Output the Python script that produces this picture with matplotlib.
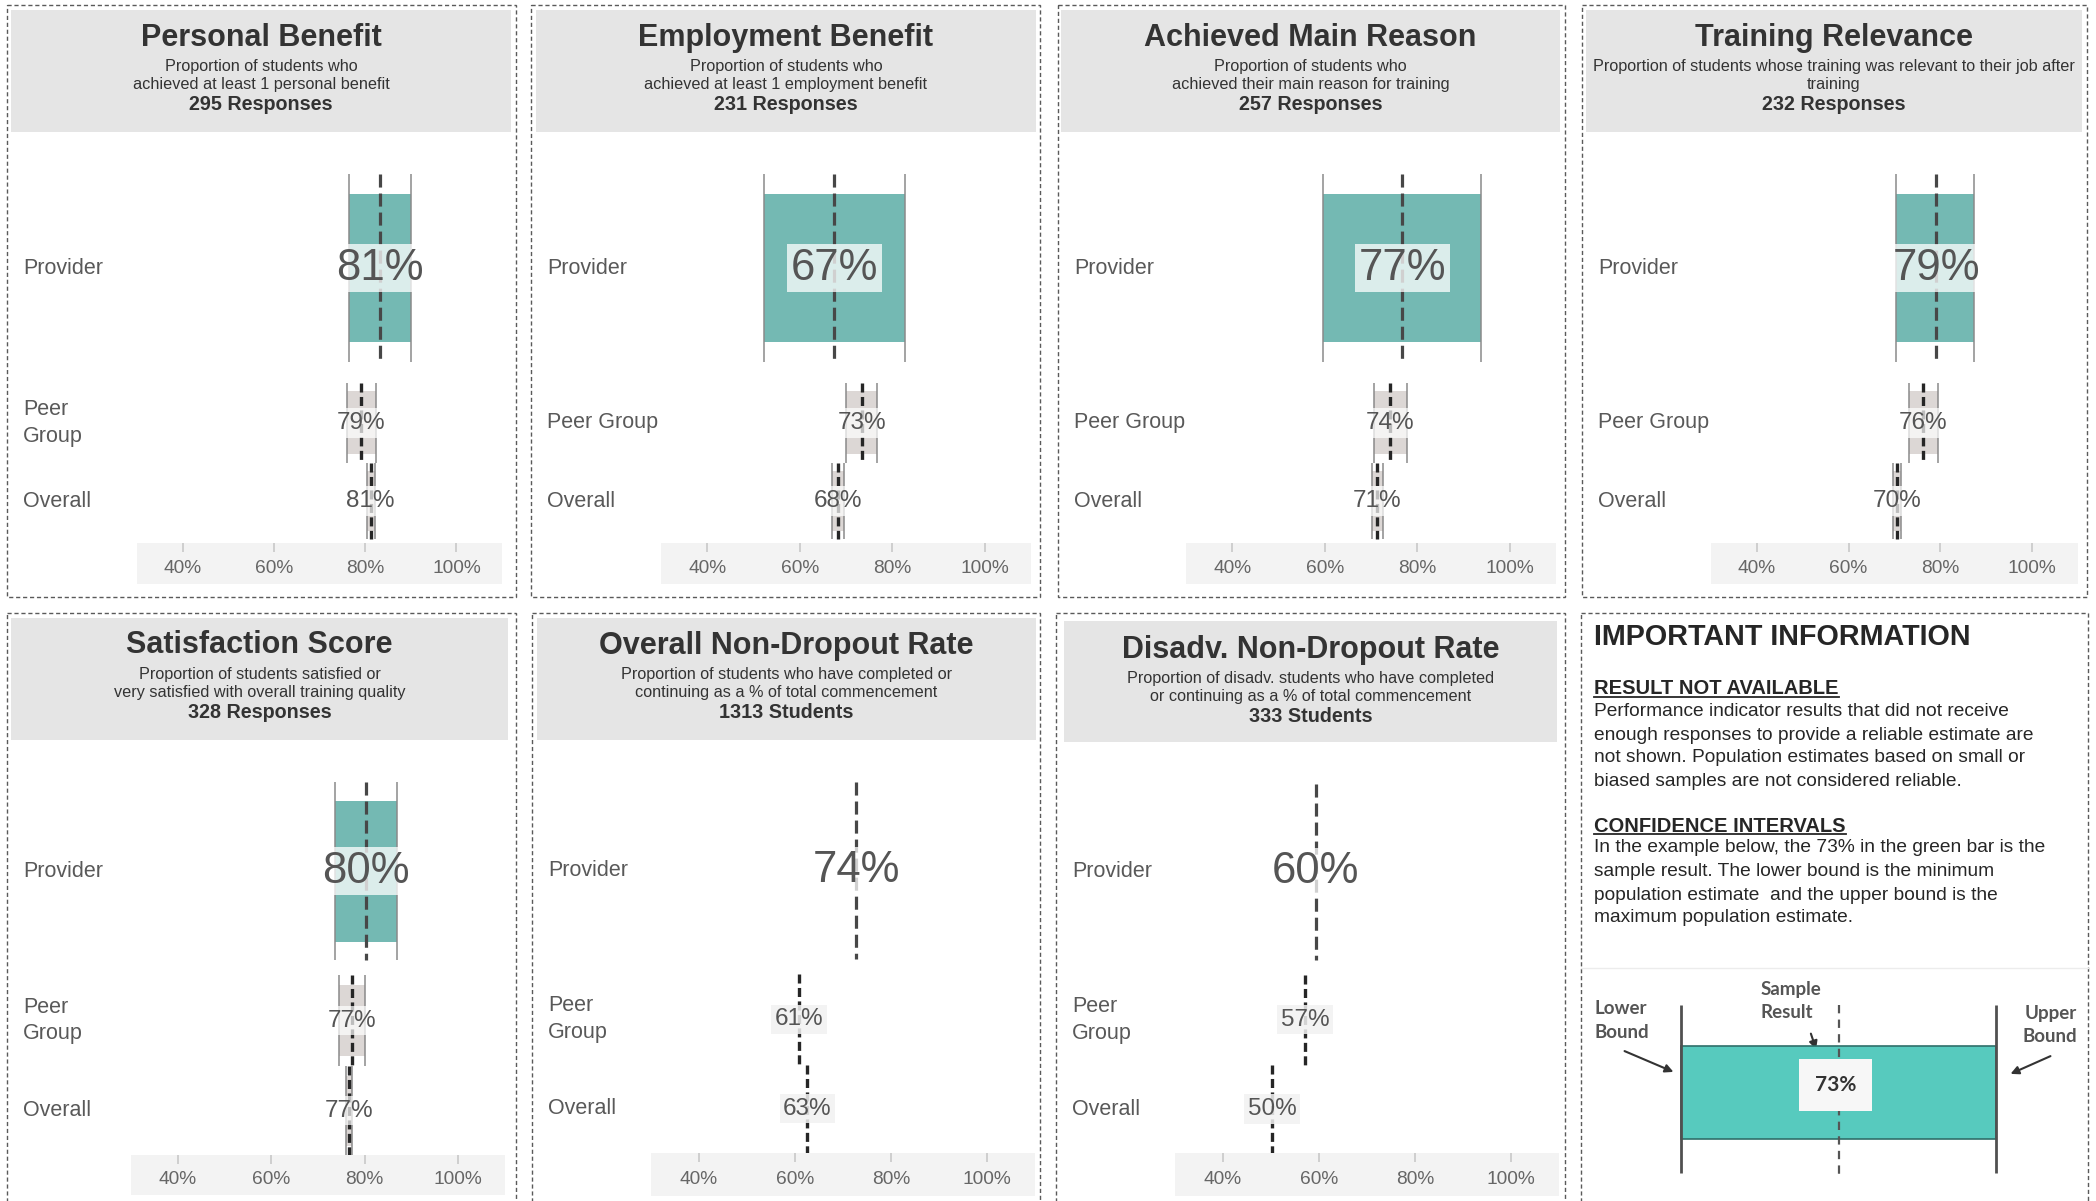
import matplotlib
matplotlib.use("Agg")
import matplotlib.pyplot as plt
import matplotlib.transforms as mtransforms
from matplotlib.patches import Rectangle, FancyArrowPatch

plt.rcParams['font.family'] = ['Liberation Sans', 'DejaVu Sans']
plt.rcParams['lines.scale_dashes'] = False

W, H = 2096, 1201

# ---------------- data ----------------
titles = ["Personal Benefit", "Employment Benefit", "Achieved Main Reason", "Training Relevance",
          "Satisfaction Score", "Overall Non-Dropout Rate", "Disadv. Non-Dropout Rate"]
subtitles = [
    "Proportion of students who\nachieved at least 1 personal benefit",
    "Proportion of students who\nachieved at least 1 employment benefit",
    "Proportion of students who\nachieved their main reason for training",
    "Proportion of students whose training was relevant to their job after\ntraining",
    "Proportion of students satisfied or\nvery satisfied with overall training quality",
    "Proportion of students who have completed or\ncontinuing as a % of total commencement",
    "Proportion of disadv. students who have completed\nor continuing as a % of total commencement",
]
counts = ["295 Responses", "231 Responses", "257 Responses", "232 Responses",
          "328 Responses", "1313 Students", "333 Students"]
row_names = [
    ["Provider", "Peer\nGroup", "Overall"],
    ["Provider", "Peer Group", "Overall"],
    ["Provider", "Peer Group", "Overall"],
    ["Provider", "Peer Group", "Overall"],
    ["Provider", "Peer\nGroup", "Overall"],
    ["Provider", "Peer\nGroup", "Overall"],
    ["Provider", "Peer\nGroup", "Overall"],
]
# sample result (dashed line), lower / upper bound of the confidence interval
result_pos = [
    [83.2, 79.2, 81.2],
    [67.5, 73.4, 68.3],
    [76.8, 74.2, 71.3],
    [79.1, 76.3, 70.5],
    [80.3, 77.2, 76.6],
    [72.8, 60.8, 62.6],
    [59.3, 57.1, 50.2],
]
lower = [
    [76.5, 76.1, 80.4],
    [52.2, 70.1, 67.0],
    [59.6, 70.6, 70.3],
    [70.4, 73.1, 69.7],
    [73.7, 74.5, 76.0],
    None,
    None,
]
upper = [
    [90.1, 82.4, 82.1],
    [82.7, 76.7, 69.5],
    [93.8, 77.8, 72.5],
    [87.4, 79.5, 71.5],
    [87.0, 80.0, 77.3],
    None,
    None,
]
result_labels = [
    ["81%", "79%", "81%"],
    ["67%", "73%", "68%"],
    ["77%", "74%", "71%"],
    ["79%", "76%", "70%"],
    ["80%", "77%", "77%"],
    ["74%", "61%", "63%"],
    ["60%", "57%", "50%"],
]
ticks = [40, 60, 80, 100]
tick_labels = ["40%", "60%", "80%", "100%"]

info_title = "IMPORTANT INFORMATION"
info_heads = ["RESULT NOT AVAILABLE", "CONFIDENCE INTERVALS"]
info_body = [
    ["Performance indicator results that did not receive",
     "enough responses to provide a reliable estimate are",
     "not shown. Population estimates based on small or",
     "biased samples are not considered reliable."],
    ["In the example below, the 73% in the green bar is the",
     "sample result. The lower bound is the minimum",
     "population estimate  and the upper bound is the",
     "maximum population estimate."],
]
example_bounds = [62, 73, 84]      # lower, sample, upper
example_label = "73%"

# ---------------- layout (pixels on the 2096x1201 canvas) ----------------
top = dict(top=5, bottom=597, head_y=(10, 132), band=(543, 584), text_y=(38, 67, 84, 104),
           row_c=[33.1, 70.8, 89.8], row_half=[22.8, 9.7, 9.2])
bot = dict(top=613, bottom=1215, head_y=(618, 740), band=(1155, 1195),
           row_c=[31.6, 67.6, 89.3], row_half=[21.5, 10.9, 10.7])
panels = [
    dict(top, box=(7, 516), head=(11, 511), plot=(137, 502)),
    dict(top, box=(531, 1040), head=(536, 1036), plot=(661, 1031)),
    dict(top, box=(1058, 1565), head=(1061, 1560), plot=(1186, 1556)),
    dict(top, box=(1582, 2087), head=(1586, 2082), plot=(1711, 2078)),
    dict(bot, box=(7, 516), head=(11, 508), plot=(131, 505), text_y=(645, 674, 692, 712)),
    dict(bot, box=(532, 1040), head=(537, 1036), plot=(651, 1035), band=(1153, 1196),
         text_y=(646, 675, 693, 712)),
    dict(bot, box=(1056, 1565), head=(1064, 1557), plot=(1175, 1559), band=(1153, 1196),
         head_y=(621, 742), text_y=(650, 678, 696, 716)),
]
bar_frac = 0.79
teal = "#74b9b3"
grey = "#dcd7d5"


def frac_rect(x0, x1, y0, y1):
    return [x0 / W, 1 - y1 / H, (x1 - x0) / W, (y1 - y0) / H]


fig = plt.figure(figsize=(W / 100, H / 100), dpi=100)
bg = fig.add_axes([0, 0, 1, 1], zorder=0)
bg.set_xlim(0, W)
bg.set_ylim(H, 0)
bg.axis('off')

for i, p in enumerate(panels):
    bx0, bx1 = p['box']
    bg.add_patch(Rectangle((bx0, p['top']), bx1 - bx0, p['bottom'] - p['top'], fill=False,
                           ec='#5a5a5a', lw=1, ls=(0, (3, 2))))
    hx0, hx1 = p['head']
    hy0, hy1 = p['head_y']
    bg.add_patch(Rectangle((hx0, hy0), hx1 - hx0, hy1 - hy0, fc='#e5e5e5', ec='none'))
    cx = (hx0 + hx1) / 2
    ty = p['text_y']
    bg.text(cx, ty[0], titles[i], ha='center', va='center', fontsize=22,
            fontweight='bold', color='#333333')
    for k, line in enumerate(subtitles[i].split('\n')):
        bg.text(cx, ty[1 + k], line, ha='center', va='center', fontsize=11.7, color='#333333')
    bg.text(cx, ty[3], counts[i], ha='center', va='center', fontsize=14.2,
            fontweight='bold', color='#333333')

    px0, px1 = p['plot']
    ax = fig.add_axes(frac_rect(px0, px1, hy1, p['band'][0]), zorder=2)
    ax.set_xlim(30, 110)
    ax.set_ylim(100, 0)
    ax.axis('off')
    lab_tr = mtransforms.blended_transform_factory(bg.transData, ax.transData)
    has_ci = lower[i] is not None
    small_box = dict(boxstyle='square,pad=0.15', ec='none',
                     fc='white' if has_ci else '#f2f2f2', alpha=0.7 if has_ci else 0.85)

    for r in range(3):
        c = p['row_c'][r]
        hw = p['row_half'][r]
        v = result_pos[i][r]
        if has_ci:
            lo, hi = lower[i][r], upper[i][r]
            ax.barh(c, hi - lo, left=lo, height=2 * hw * bar_frac,
                    color=teal if r == 0 else grey, zorder=1)
            ax.vlines([lo, hi], c - hw, c + hw, color='#8a8a8a', lw=1.1, zorder=2)
        if r == 0:
            ax.plot([v, v], [c - hw, c + hw], color='#474747', lw=2.3,
                    dashes=(9.4, 4.3), zorder=3)
            ax.text(v, c, result_labels[i][r], ha='center', va='center', fontsize=31.5,
                    color='#555555', zorder=4,
                    bbox=dict(boxstyle='square,pad=0.08', fc='white', ec='none', alpha=0.75))
        else:
            ax.plot([v, v], [c - hw, c + hw], color='#262626', lw=2.4,
                    dashes=(6.5, 3.2), zorder=3)
            ax.text(v, c, result_labels[i][r], ha='center', va='center', fontsize=17.5,
                    color='#555555', zorder=4, bbox=small_box)
        ax.text(bx0 + 16, c, row_names[i][r], transform=lab_tr, ha='left', va='center',
                fontsize=15.5, color='#595959', linespacing=1.35)

    bax = fig.add_axes(frac_rect(px0, px1, p['band'][0], p['band'][1]), zorder=1)
    bax.set_facecolor('#f3f3f3')
    bax.set_xlim(30, 110)
    bax.set_ylim(0, 1)
    for s in bax.spines.values():
        s.set_visible(False)
    bax.set_yticks([])
    bax.set_xticks(ticks)
    bax.tick_params(axis='x', top=True, bottom=False, direction='in', length=6.5,
                    width=1.2, color='#c8c8c8', labelbottom=False, labeltop=False)
    for t, lab in zip(ticks, tick_labels):
        bax.text(t, 0.38, lab, ha='center', va='center', fontsize=13.8, color='#666666')

# ---------------- information panel ----------------
bg.add_patch(Rectangle((1581, 613), 2088 - 1581, 1215 - 613, fill=False,
                       ec='#5a5a5a', lw=1, ls=(0, (3, 2))))
bg.text(1594, 637, info_title, ha='left', va='center', fontsize=20.7,
        fontweight='bold', color='#262626')
head_y = [689, 826]
body_y = [[712, 735, 758, 781], [848, 872, 895, 918]]
head_texts = []
for k in range(2):
    head_texts.append(bg.text(1594, head_y[k], info_heads[k], ha='left', va='center',
                              fontsize=14.5, fontweight='bold', color='#262626'))
    for line, y in zip(info_body[k], body_y[k]):
        bg.text(1594, y, line, ha='left', va='center', fontsize=13.8, color='#262626')

# example diagram
bg.plot([1581, 2088], [968, 968], color='#ececec', lw=1)
lo_px, hi_px = 1681, 1996
span = (hi_px - lo_px) / (example_bounds[2] - example_bounds[0])
dax = fig.add_axes(frac_rect(1581, 2088, 960, 1201), zorder=2)
dax.set_xlim(example_bounds[0] - (lo_px - 1581) / span, example_bounds[2] + (2088 - hi_px) / span)
dax.set_ylim(1201, 960)
dax.axis('off')
e_lo, e_mid, e_hi = example_bounds
dax.add_patch(Rectangle((e_lo, 1046), e_hi - e_lo, 1139 - 1046, fc='#57cabe',
                        ec='#2f6f6a', lw=1.2, zorder=1))
dax.vlines([e_lo, e_hi], 1005, 1173, color='#505050', lw=2.0, zorder=2)
dax.plot([e_mid, e_mid], [1005, 1178], color='#555555', lw=1.6, dashes=(6, 4.5), zorder=2)
dax.text(e_mid - 0.2, 1085, example_label, ha='center', va='center', fontsize=15,
         fontweight='bold', family=['Lato', 'DejaVu Sans'], color='#333333', zorder=3,
         bbox=dict(boxstyle='square,pad=0.75', fc='#f7f7f7', ec='none'))

diag_font = dict(family=['Lato', 'DejaVu Sans'], fontsize=13.5, fontweight='bold', color='#555555')
bg.text(1595, 1008, "Lower", ha='left', va='center', **diag_font)
bg.text(1595, 1032, "Bound", ha='left', va='center', **diag_font)
bg.text(1761, 989, "Sample", ha='left', va='center', **diag_font)
bg.text(1761, 1013, "Result", ha='left', va='center', **diag_font)
bg.text(2077, 1014, "Upper", ha='right', va='center', **diag_font)
bg.text(2077, 1037, "Bound", ha='right', va='center', **diag_font)
for (x0, y0), (x1, y1) in [((1622, 1050), (1676, 1073)),
                           ((2053, 1055), (2008, 1075)),
                           ((1810, 1031), (1817, 1052))]:
    bg.add_patch(FancyArrowPatch((x0, y0), (x1, y1), arrowstyle='-|>', mutation_scale=12,
                                 lw=1.5, color='#333333', zorder=3))

# underline the information headings
fig.canvas.draw()
inv = bg.transData.inverted()
for t, y in zip(head_texts, head_y):
    bb = t.get_window_extent()
    (xa, _), (xb, _) = inv.transform([[bb.x0, bb.y0], [bb.x1, bb.y1]])
    bg.plot([xa, xb], [y + 8, y + 8], color='#262626', lw=1.3)

fig.savefig("out.png", dpi=100)
